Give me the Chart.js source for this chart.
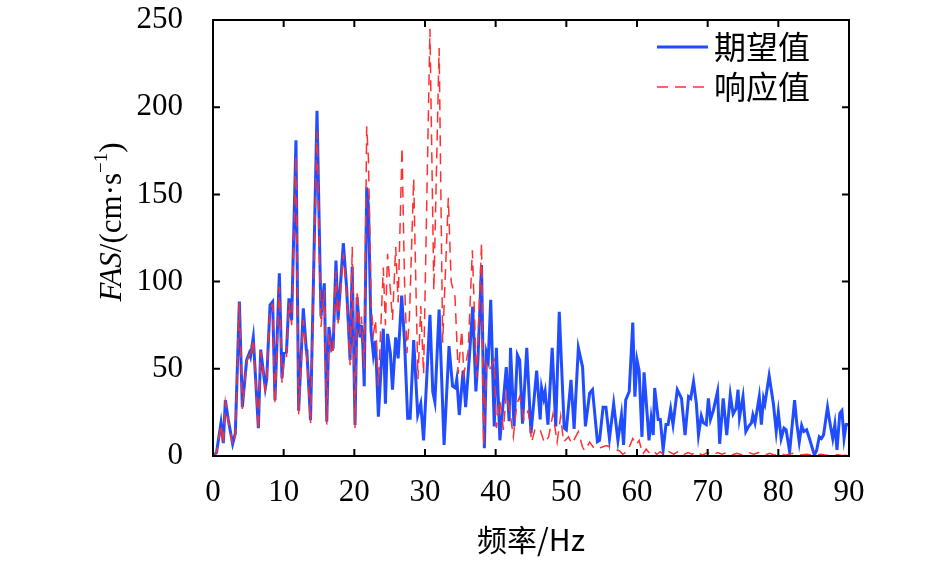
<!DOCTYPE html>
<html>
<head>
<meta charset="utf-8">
<script src="https://cdn.jsdelivr.net/npm/chart.js@4.4.1/dist/chart.umd.min.js"></script>
<style>
  html, body { margin: 0; padding: 0; background: #fff; }
  #wrap { width: 945px; height: 561px; }
</style>
</head>
<body>
<div id="wrap"><canvas id="fas" width="945" height="561"></canvas></div>
<script>
// --- DATA ---
const seriesNames = ['期望值', '响应值'];
const xTicks = [0, 10, 20, 30, 40, 50, 60, 70, 80, 90];
const yTicks = [0, 50, 100, 150, 200, 250];

// expected (target) spectrum
const blueFreq = [
  0, 0.5, 1.13, 1.46, 1.75, 2.17, 2.78, 3.16, 3.73, 4.15, 4.76, 5.14, 5.3, 5.7, 6.42, 6.75, 7.4, 7.6, 8.07, 8.44,
  8.77, 9.39, 9.76, 10.05, 10.4, 10.75, 11.13, 11.74, 12.12, 12.78, 13.2, 13.3, 13.8, 14.72,
  15.28, 15.75, 16.1, 16.4, 16.8, 17.0, 17.4, 17.7, 18.44, 18.9, 19.4, 19.7, 20.1, 20.4, 20.8, 21.0, 21.2, 21.4,
  21.75, 22.0, 22.36, 22.7, 23.0, 23.4, 24.1, 24.4, 24.7, 25.1, 25.4, 25.85, 26.2, 26.7, 27.1, 27.55, 27.9, 28.4,
  28.97, 29.4, 29.8,
  30.7, 31.1, 31.4, 32.0, 32.7, 33.4, 33.9, 34.3, 34.5, 34.85, 35.4, 35.75, 36.3, 36.75, 37.2, 37.5, 38.0, 38.4,
  38.7, 38.95, 39.3, 39.8, 40.1, 40.6, 41.5, 41.9, 42.1, 42.6, 43.07, 43.4, 43.8, 44.4,
  45.0, 45.8, 46.3, 46.5, 46.8, 47.0, 47.4, 48.0, 48.5, 49.0, 49.7, 50.0, 50.66, 51.1, 51.7, 52.3, 52.7, 53.3,
  53.7, 54.4, 54.7, 55.2, 55.6, 56.1, 56.7, 57.3, 57.8, 58.1, 58.4, 58.9, 59.4,
  59.7, 60.0, 60.3, 60.7, 61.0, 61.4, 61.7, 62.0, 62.3, 62.5, 63.0, 63.3, 63.7, 64.1, 64.4, 64.76, 65.1, 65.7,
  66.3, 66.8, 67.3, 67.6, 68.0, 68.4, 68.7, 69.1, 69.4, 69.8, 70.1, 70.4, 70.8, 71.4, 71.7, 72.2, 72.7, 73.2,
  73.6, 74.0, 74.3,
  74.5, 75.0, 75.4, 75.8, 76.2, 76.4, 76.7, 77.3, 77.6, 77.9, 78.1, 78.7, 79.3, 79.7, 80.0, 80.4, 80.8, 81.1,
  81.6, 82.3, 82.6, 82.96, 83.3, 83.6, 84.0, 84.4, 85.1, 85.4, 85.8, 86.1, 86.4, 86.96, 87.3, 87.7, 88.0, 88.3,
  88.7, 89.0, 89.3, 89.6, 90
];
const blueAmp = [
  0, 2, 19, 7.4, 32, 20.6, 6.9, 13, 88.5, 28, 55, 59, 57, 68, 16, 61, 39, 44, 86.6, 88.5,
  32, 104.7, 44.5, 59, 59.6, 90.4, 78, 181, 26, 84.7, 61, 59, 20.6, 198,
  80, 99, 19.7, 74, 61, 62, 112, 78, 122, 97, 55, 108.6, 17.8, 91, 68, 75, 64, 40,
  154, 143, 72, 58, 66, 22.5, 73, 30, 70, 59, 38, 68, 56, 92, 66, 21.6, 21.6, 66.5,
  23.5, 30, 9,
  81, 37, 31, 84, 6.3, 63, 40, 39, 44, 23.5, 49, 28, 58, 85.6, 37, 56, 109.5, 4.5,
  59, 55, 89.5, 17, 62, 9, 51, 20, 62, 17, 58, 55, 18.5, 62,
  13, 49, 21, 39, 33, 37, 18, 62, 17, 82.7, 16, 15, 43.6, 15.5, 62, 51, 17, 36,
  38, 8.2, 9, 28, 28, 10, 30, 9, 23.5, 6.3, 32, 37, 76.5,
  34, 55, 49, 11, 48, 26, 9, 21.6, 12, 39, 21, 21, 3.4, 18, 18, 27, 18, 38,
  33, 12, 34, 33, 42.6, 30, 12, 23, 19, 18, 33, 21, 26, 37, 7, 33, 12, 35,
  24, 27, 38,
  22, 34, 14, 17, 19, 23.5, 19, 34, 18, 33, 30, 46, 30, 14, 25, 10, 16, 15,
  2.5, 32, 19, 8, 17.5, 14, 15, 10, 0.5, 3, 11, 10, 12, 28, 19, 10, 18, 3.5,
  24.5, 26, 10, 18, 18
];

// measured (response) spectrum
const redFreq = [
  0, 0.5, 1.13, 1.46, 1.75, 2.17, 2.78, 3.16, 3.73, 4.15, 4.76, 5.14, 5.3, 5.7, 6.42, 6.75, 7.4, 7.6, 8.07, 8.44,
  8.77, 9.39, 9.76, 10.05, 10.4, 10.75, 11.13, 11.74, 12.12, 12.78, 13.2, 13.3, 13.8, 14.72,
  15.28, 15.75, 16.1, 16.4, 16.8, 17.0, 17.4, 17.7, 18.44, 18.9, 19.4, 19.7, 20.1, 20.4, 20.8, 21.0, 21.2, 21.4,
  21.75, 22.0, 22.4, 22.7, 23.0, 23.4, 24.1, 24.4, 24.7, 25.1, 25.4, 25.85, 26.2, 26.75, 27.1, 27.45, 27.8, 28.4,
  28.7, 29.0, 29.4, 29.8, 30.7, 31.25, 32.0, 32.5, 33.3, 33.7, 34.25, 34.7, 35.2, 35.5, 36.1, 36.7, 37.3, 38.0,
  38.3, 38.7, 39.1, 39.8, 40.1, 40.6, 41.1, 41.5, 42.0, 42.5, 43.0, 43.4, 44.0, 44.6, 45.1, 45.6, 46.3, 46.9,
  47.5, 48.1, 48.7, 49.2, 49.6, 50.3, 50.8, 51.7, 52.3, 52.6, 53.3, 54.0, 55.0, 55.7, 56.7, 57.5, 58.0, 58.7,
  59.4, 59.9, 60.3, 60.8, 61.3, 61.8, 62.3, 62.8, 63.3, 63.8, 64.5, 65.2, 65.8, 66.5, 67.2, 67.8, 68.5, 69.2,
  70, 70.7, 71.4, 72, 72.7, 73.4, 74.1, 75, 75.8, 76.5, 77.2, 78, 78.8, 79.5, 80.2, 81, 82, 83, 84, 85, 86, 87,
  88, 89, 90
];
const redAmp = [
  0, 2, 18, 7, 31, 20, 6.5, 12, 88, 27, 54, 58, 56, 67, 15, 60, 38, 43, 85, 87,
  30, 97, 42, 55, 57, 88, 75, 172, 24, 78, 58, 56, 19, 186,
  74, 95, 18, 70, 58, 60, 106, 76, 116, 95, 52, 120, 16, 95, 70, 80, 66, 50,
  189, 170, 85, 70, 78, 40, 108, 75, 116, 95, 78, 120, 88, 177, 100, 59, 80, 159,
  100, 44, 86, 47, 245, 95, 234, 65, 148, 100, 91, 47, 72, 47, 60, 118, 45, 122,
  6, 53, 49, 55, 16, 32, 15, 36, 26, 11, 30, 34, 21, 26, 8, 16, 15, 7.5,
  11, 24, 8, 23, 8, 11, 7, 14, 5, 3, 8, 4, 5, 6, 4, 3, 1, 3,
  10, 6.5, 9, 1, 4, 1.5, 3, 1, 2.5, 0.5, 2.5, 1, 2.5, 0.5, 2, 1, 2.5, 0.5,
  2, 0.5, 2, 1, 2, 0.5, 1.5, 0.5, 2, 1, 2, 0.5, 1.5, 0.5, 1.5, 0.5, 1.5, 0.5, 1, 0.3, 1, 0.3,
  1, 0.3, 0.5
];

const BLUE = '#1f4dff';
const RED = '#ff3030';
const SERIF = '"Liberation Serif", "Times New Roman", serif';
const CJK = '"Noto Sans CJK SC", "Liberation Serif", sans-serif';

const toPoints = (xs, ys) => xs.map((x, i) => ({ x, y: ys[i] }));

// frame, inward ticks, axis titles, legend
const framePlugin = {
  id: 'frame',
  afterDraw(chart) {
    const { ctx, chartArea: a, scales } = chart;
    const xs = scales.x, ys = scales.y;
    const tl = 7;
    ctx.save();
    ctx.strokeStyle = '#000';
    ctx.lineWidth = 2;
    ctx.strokeRect(a.left, a.top, a.right - a.left, a.bottom - a.top);
    ctx.beginPath();
    xTicks.forEach(v => {
      const px = xs.getPixelForValue(v);
      ctx.moveTo(px, a.bottom); ctx.lineTo(px, a.bottom - tl);
      ctx.moveTo(px, a.top); ctx.lineTo(px, a.top + tl);
    });
    yTicks.forEach(v => {
      const py = ys.getPixelForValue(v);
      ctx.moveTo(a.left, py); ctx.lineTo(a.left + tl, py);
      ctx.moveTo(a.right, py); ctx.lineTo(a.right - tl, py);
    });
    ctx.stroke();

    // legend
    ctx.font = '32px ' + CJK;
    ctx.textBaseline = 'middle';
    ctx.textAlign = 'left';
    chart.data.datasets.forEach((ds, i) => {
      const y = 47 + i * 40;
      ctx.strokeStyle = ds.borderColor;
      ctx.lineWidth = ds.borderWidth;
      ctx.setLineDash(ds.borderDash || []);
      ctx.beginPath();
      ctx.moveTo(657, y); ctx.lineTo(708, y);
      ctx.stroke();
      ctx.setLineDash([]);
      ctx.fillStyle = '#000';
      ctx.fillText(ds.label, 714, y);
    });

    // x title
    ctx.fillStyle = '#000';
    ctx.textAlign = 'center';
    ctx.textBaseline = 'middle';
    ctx.font = '30px ' + CJK;
    ctx.fillText('频率/Hz', (a.left + a.right) / 2, 540);

    // y title with italic FAS and superscript
    ctx.translate(113, 222);
    ctx.rotate(-Math.PI / 2);
    const parts = [
      { t: 'FAS', f: 'italic 31px ' + SERIF, dy: 0 },
      { t: '/(cm·s', f: '31px ' + SERIF, dy: 0 },
      { t: '−1', f: '19px ' + SERIF, dy: -11 },
      { t: ')', f: '31px ' + SERIF, dy: 0 }
    ];
    let total = 0;
    parts.forEach(p => { ctx.font = p.f; p.w = ctx.measureText(p.t).width; total += p.w; });
    let x0 = -total / 2;
    ctx.textAlign = 'left';
    ctx.textBaseline = 'middle';
    parts.forEach(p => { ctx.font = p.f; ctx.fillText(p.t, x0, p.dy); x0 += p.w; });
    ctx.restore();
  }
};

new Chart(document.getElementById('fas'), {
  type: 'line',
  data: {
    datasets: [
      {
        label: seriesNames[0],
        data: toPoints(blueFreq, blueAmp),
        borderColor: BLUE,
        borderWidth: 3,
        pointRadius: 0,
        tension: 0,
        order: 1
      },
      {
        label: seriesNames[1],
        data: toPoints(redFreq, redAmp),
        borderColor: RED,
        borderWidth: 1.5,
        borderDash: [11, 7],
        pointRadius: 0,
        tension: 0,
        order: 0
      }
    ]
  },
  options: {
    responsive: false,
    animation: false,
    layout: { padding: { left: 0, right: 96, top: 20, bottom: 0 } },
    plugins: { legend: { display: false }, tooltip: { enabled: false } },
    scales: {
      x: {
        type: 'linear',
        min: 0, max: 90,
        afterBuildTicks: s => { s.ticks = xTicks.map(v => ({ value: v })); },
        afterFit: s => { s.height = 105; s.paddingLeft = 0; s.paddingRight = 0; },
        grid: { display: false },
        border: { display: false },
        ticks: { color: '#000', font: { family: SERIF, size: 31 }, padding: 10, maxRotation: 0 }
      },
      y: {
        min: 0, max: 250,
        afterBuildTicks: s => { s.ticks = yTicks.map(v => ({ value: v })); },
        afterFit: s => { s.width = 213; s.paddingTop = 0; s.paddingBottom = 0; },
        grid: { display: false },
        border: { display: false },
        ticks: { color: '#000', font: { family: SERIF, size: 31 }, padding: 22 }
      }
    }
  },
  plugins: [framePlugin]
});
</script>
</body>
</html>
